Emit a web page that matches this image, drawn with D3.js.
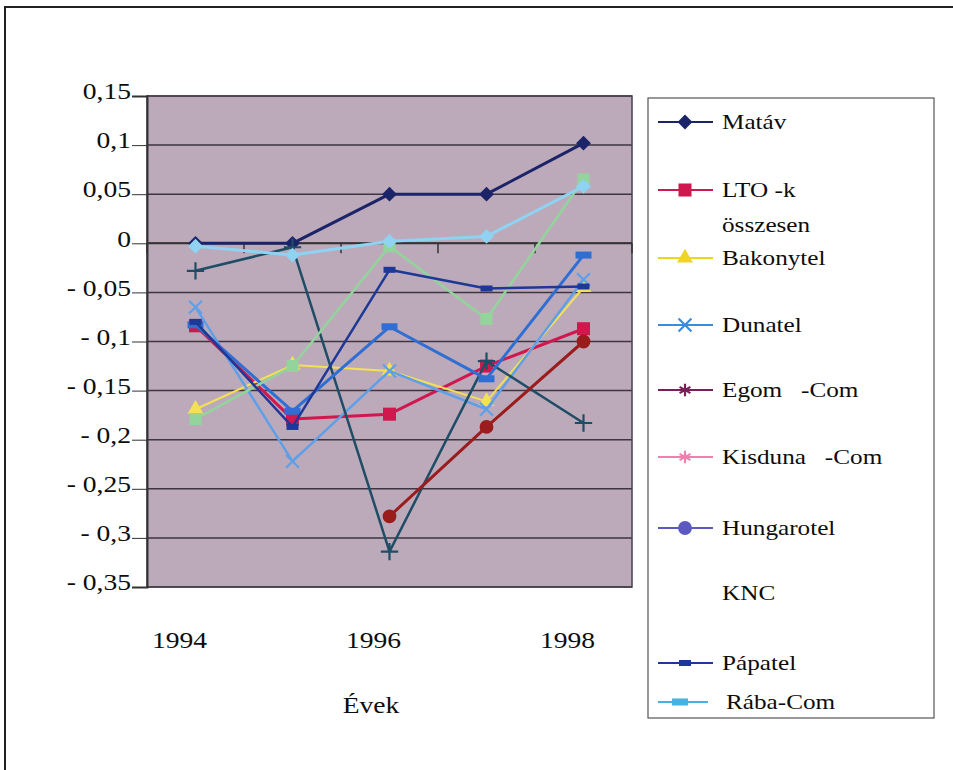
<!DOCTYPE html>
<html>
<head>
<meta charset="utf-8">
<script src="https://cdn.jsdelivr.net/npm/d3@7"></script>
<style>
body { margin: 0; background: #fff; }
text { font-family: "Liberation Serif", "Times New Roman", serif; fill: #0d0d0d; }
</style>
</head>
<body>
<svg id="chart" width="953" height="770"></svg>
<script>
// data
var years = [1994, 1995, 1996, 1997, 1998];
var yearLabels = [1994, 1996, 1998];
var yTicks = [0.15, 0.1, 0.05, 0, -0.05, -0.1, -0.15, -0.2, -0.25, -0.3, -0.35];

var names = ["Matáv", "LTO -k összesen", "Bakonytel", "Dunatel", "Egom   -Com",
             "Kisduna   -Com", "Hungarotel", "KNC", "Pápatel", "Rába-Com"];

var matav      = [0, 0, 0.05, 0.05, 0.102];
var lto        = [-0.084, -0.179, -0.174, -0.125, -0.087];
var bakonytel  = [-0.169, -0.124, -0.13, -0.161, -0.045];
var dunatel    = [-0.065, -0.222, -0.13, -0.169, -0.037];
var egom       = [-0.028, -0.004, -0.314, -0.12, -0.183];
var kisduna    = [-0.083, -0.171, -0.085, -0.138, -0.012];
var hungarotel = [null, null, -0.278, -0.187, -0.1];
var knc        = [-0.179, -0.125, -0.003, -0.077, 0.065];
var papatel    = [-0.08, -0.187, -0.027, -0.046, -0.044];
var raba       = [-0.003, -0.012, 0.002, 0.007, 0.058];

var values = [matav, lto, bakonytel, dunatel, egom, kisduna, hungarotel, knc, papatel, raba];

// look of each series: line colour in the plot, colour in the legend, marker
var styles = [
  {c: "#1b2468", lc: "#1b2468", w: 3,   m: "diamond",  s: 110},
  {c: "#d2174f", lc: "#d2174f", w: 3,   m: "square",   s: 170},
  {c: "#f2e152", lc: "#f0d424", w: 2,   m: "triangle", s: 110},
  {c: "#5e9fe8", lc: "#3a8ce0", w: 2.5, m: "x",        s: 110},
  {c: "#1f4d66", lc: "#7a1f58", w: 2.5, m: "plus",     s: 100},
  {c: "#2f6ed2", lc: "#f080b0", w: 3,   m: "wrect",    s: 0},
  {c: "#9b1c1c", lc: "#5b58c2", w: 3,   m: "circle",   s: 150},
  {c: "#93d49c", lc: "none",    w: 2.5, m: "gsquare",  s: 0},
  {c: "#1d3896", lc: "#1d3896", w: 2.5, m: "rect",     s: 0},
  {c: "#8fd2f2", lc: "#45b2e2", w: 3,   m: "diamond",  s: 110}
];

var svg = d3.select("#chart");
var sx = 1.2; // the scanned text is stretched sideways

function label(g, tx, ty, str, size, anchor) {
  return g.append("text")
    .attr("transform", "translate(" + tx + "," + ty + ") scale(" + sx + ",1)")
    .attr("font-size", size).attr("text-anchor", anchor || "start")
    .style("white-space", "pre").text(str);
}

// outer frame (the scan only shows top and left)
svg.append("rect").attr("x", 5).attr("y", 7).attr("width", 1000).attr("height", 1000)
  .attr("fill", "none").attr("stroke", "#222").attr("stroke-width", 2);

var plotL = 147, plotR = 632, plotT = 96, plotB = 587;

var x = d3.scaleBand().domain(years).range([plotL, plotR]);
var y = d3.scaleLinear().domain([-0.35, 0.15]).range([plotB, plotT]);
var cx = function(d) { return x(d) + x.bandwidth() / 2; };

// plot area
svg.append("rect").attr("x", plotL).attr("y", plotT)
  .attr("width", plotR - plotL).attr("height", plotB - plotT)
  .attr("fill", "#bcaabb");

// grid lines
svg.append("g").selectAll("line").data(yTicks).enter().append("line")
  .attr("x1", plotL).attr("x2", plotR)
  .attr("y1", function(d) { return y(d); }).attr("y2", function(d) { return y(d); })
  .attr("stroke", "#3d3540").attr("stroke-width", 1.5);

svg.append("rect").attr("x", plotL).attr("y", plotT)
  .attr("width", plotR - plotL).attr("height", plotB - plotT)
  .attr("fill", "none").attr("stroke", "#4a4050").attr("stroke-width", 1.5);

// y axis
var fmt = function(d) {
  var s = String(+Math.abs(d).toFixed(2)).replace(".", ",");
  return d < 0 ? "- " + s : s;
};
var yAxis = svg.append("g").attr("transform", "translate(" + plotL + ",0)")
  .call(d3.axisLeft(y).tickValues(yTicks).tickFormat(fmt).tickSize(15).tickPadding(1));
yAxis.select(".domain").attr("stroke", "#333").attr("stroke-width", 2);
yAxis.selectAll(".tick line").attr("stroke", "#333");
yAxis.selectAll(".tick text")
  .attr("x", -16 / sx).attr("transform", "scale(" + sx + ",1)")
  .attr("font-size", 23).attr("dy", "0.12em")
  .style("font-family", "'Liberation Serif', serif").attr("fill", "#0d0d0d");

// x axis on the zero line, ticks at category borders
var xAxisG = svg.append("g");
xAxisG.append("line").attr("x1", plotL).attr("x2", plotR)
  .attr("y1", y(0)).attr("y2", y(0)).attr("stroke", "#333").attr("stroke-width", 2);
var borders = years.map(function(d) { return x(d); }).concat([plotR]);
xAxisG.selectAll(".bt").data(borders).enter().append("line")
  .attr("x1", function(d) { return d; }).attr("x2", function(d) { return d; })
  .attr("y1", y(0)).attr("y2", y(0) + 10)
  .attr("stroke", "#333").attr("stroke-width", 1.5);

var xl = svg.append("g");
yearLabels.forEach(function(d) { label(xl, cx(d) - 16, 648, String(d), 23, "middle"); });

label(svg, 371, 713, "Évek", 23, "middle");

// markers
function marker(g, st, px, py, legend) {
  var col = legend ? st.lc : st.c;
  var t = "translate(" + px + "," + py + ")";
  if (st.m === "rect") {
    g.append("rect").attr("x", px - 6).attr("y", py - 3).attr("width", 12).attr("height", 6).attr("fill", col);
  } else if (st.m === "wrect") {
    g.append("rect").attr("x", px - 8).attr("y", py - 3.5).attr("width", 16).attr("height", 7).attr("fill", col);
  } else if (st.m === "gsquare") {
    if (!legend) g.append("rect").attr("x", px - 6).attr("y", py - 6).attr("width", 12).attr("height", 12).attr("fill", col);
  } else if (st.m === "diamond") {
    g.append("path").attr("transform", t + " rotate(45)")
      .attr("d", d3.symbol(d3.symbolSquare, st.s)()).attr("fill", col);
  } else if (st.m === "x" || st.m === "plus" || st.m === "asterisk") {
    var sym = st.m === "x" ? d3.symbolX : (st.m === "plus" ? d3.symbolPlus : d3.symbolAsterisk);
    g.append("path").attr("transform", t).attr("d", d3.symbol(sym, st.s)())
      .attr("fill", "none").attr("stroke", col).attr("stroke-width", 2.2);
  } else {
    var symF = {square: d3.symbolSquare, triangle: d3.symbolTriangle, circle: d3.symbolCircle}[st.m];
    g.append("path").attr("transform", t).attr("d", d3.symbol(symF, st.s)()).attr("fill", col);
  }
}

var line = d3.line()
  .defined(function(d) { return d.v !== null; })
  .x(function(d) { return cx(d.year); })
  .y(function(d) { return y(d.v); });

values.forEach(function(vals, i) {
  var st = styles[i];
  var pts = years.map(function(yr, j) { return {year: yr, v: vals[j]}; });
  var g = svg.append("g");
  g.append("path").datum(pts).attr("d", line)
    .attr("fill", "none").attr("stroke", st.c).attr("stroke-width", st.w)
    .attr("stroke-linejoin", "round");
  pts.forEach(function(p) {
    if (p.v !== null) marker(g, st, cx(p.year), y(p.v), false);
  });
});

// legend
svg.append("rect").attr("x", 648).attr("y", 98).attr("width", 286).attr("height", 620)
  .attr("fill", "#fff").attr("stroke", "#555").attr("stroke-width", 1.2);

var legendY = [122, 190, 258, 325, 390, 457, 528, 593, 663, 702];
var legendStyles = styles.map(function(s, i) {
  var o = Object.assign({}, s);
  if (i === 4 || i === 5) { o.m = "asterisk"; o.s = 110; }
  if (i === 9) { o.m = "wrect"; }
  return o;
});

names.forEach(function(name, i) {
  var st = legendStyles[i];
  var ly = legendY[i];
  var g = svg.append("g");
  var x2 = i === 9 ? 708 : 713;
  if (st.lc !== "none") {
    g.append("line").attr("x1", 658).attr("x2", x2).attr("y1", ly).attr("y2", ly)
      .attr("stroke", st.lc).attr("stroke-width", 2);
    marker(g, st, i === 9 ? 680 : 685, ly, true);
  }
  var tx = i === 9 ? 726 : 722;
  if (i === 1) {
    label(g, tx, ly + 7, "LTO -k", 21);
    label(g, tx, ly + 42, "összesen", 21);
  } else {
    label(g, tx, ly + 7, name, 21);
  }
});
</script>
</body>
</html>
